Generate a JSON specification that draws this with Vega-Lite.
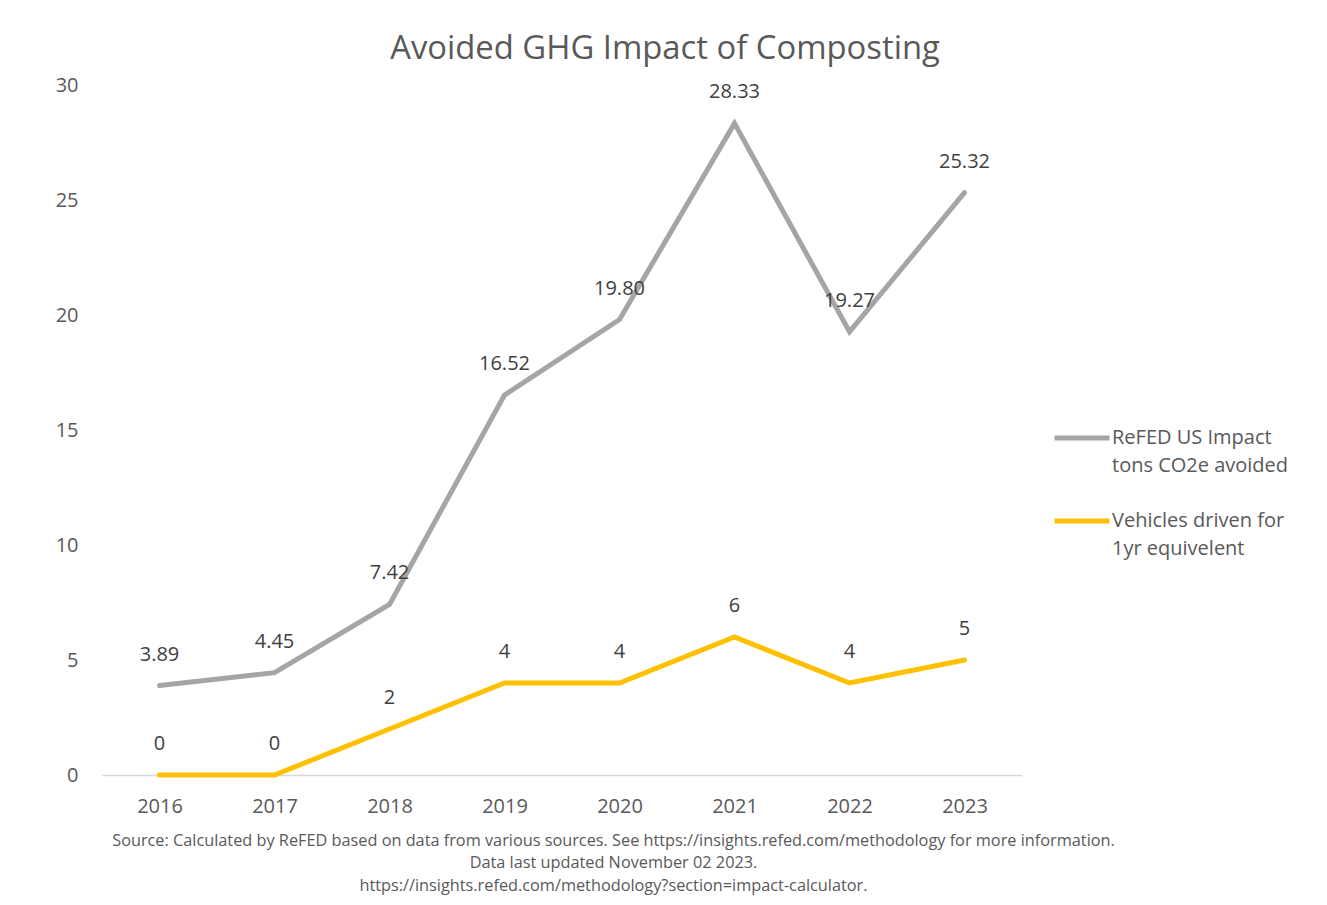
{
  "$schema": "https://vega.github.io/schema/vega-lite/v6.json",
  "autosize": "none",
  "width": 920,
  "height": 690,
  "padding": {"left": 102, "top": 85, "right": 305, "bottom": 130},
  "background": "white",
  "config": {
    "font": "Open Sans",
    "view": {"stroke": null},
    "axis": {"labelFont": "Open Sans", "titleFont": "Open Sans"},
    "style": {"guide-label": {"lineHeight": 28}}
  },
  "title": {
    "text": "Avoided GHG Impact of Composting",
    "font": "Open Sans",
    "fontSize": 32.8,
    "fontWeight": "normal",
    "color": "#595959",
    "anchor": "middle",
    "dx": 103,
    "offset": 9
  },
  "data": {
    "values": [
      {"year": "2016", "series": "ReFED US Impact tons CO2e avoided", "value": 3.89},
      {"year": "2017", "series": "ReFED US Impact tons CO2e avoided", "value": 4.45},
      {"year": "2018", "series": "ReFED US Impact tons CO2e avoided", "value": 7.42},
      {"year": "2019", "series": "ReFED US Impact tons CO2e avoided", "value": 16.52},
      {"year": "2020", "series": "ReFED US Impact tons CO2e avoided", "value": 19.80},
      {"year": "2021", "series": "ReFED US Impact tons CO2e avoided", "value": 28.33},
      {"year": "2022", "series": "ReFED US Impact tons CO2e avoided", "value": 19.27},
      {"year": "2023", "series": "ReFED US Impact tons CO2e avoided", "value": 25.32},
      {"year": "2016", "series": "Vehicles driven for 1yr equivelent", "value": 0},
      {"year": "2017", "series": "Vehicles driven for 1yr equivelent", "value": 0},
      {"year": "2018", "series": "Vehicles driven for 1yr equivelent", "value": 2},
      {"year": "2019", "series": "Vehicles driven for 1yr equivelent", "value": 4},
      {"year": "2020", "series": "Vehicles driven for 1yr equivelent", "value": 4},
      {"year": "2021", "series": "Vehicles driven for 1yr equivelent", "value": 6},
      {"year": "2022", "series": "Vehicles driven for 1yr equivelent", "value": 4},
      {"year": "2023", "series": "Vehicles driven for 1yr equivelent", "value": 5}
    ]
  },
  "encoding": {
    "x": {
      "field": "year",
      "type": "ordinal",
      "scale": {"type": "point", "padding": 0.5},
      "axis": {
        "labelAngle": 0,
        "labelFontSize": 20,
        "labelColor": "#595959",
        "labelPadding": 21,
        "ticks": false,
        "domainColor": "#D9D9D9",
        "domainWidth": 1.3,
        "grid": false,
        "title": [
          "Source: Calculated by ReFED based on data from various sources. See https://insights.refed.com/methodology for more information.",
          "Data last updated November 02 2023.",
          "https://insights.refed.com/methodology?section=impact-calculator."
        ],
        "titleFontSize": 16.3,
        "titleFontWeight": "normal",
        "titleColor": "#595959",
        "titleLineHeight": 22.5,
        "titlePadding": 16,
        "titleX": 511
      }
    },
    "y": {
      "field": "value",
      "type": "quantitative",
      "scale": {"domain": [0, 30], "nice": false},
      "axis": {
        "values": [0, 5, 10, 15, 20, 25, 30],
        "labelFontSize": 20,
        "labelColor": "#595959",
        "labelPadding": 24,
        "ticks": false,
        "domain": false,
        "grid": false,
        "title": null
      }
    }
  },
  "layer": [
    {
      "mark": {"type": "line", "strokeWidth": 5, "strokeCap": "round"},
      "encoding": {
        "color": {
          "field": "series",
          "type": "nominal",
          "scale": {
            "domain": ["ReFED US Impact tons CO2e avoided", "Vehicles driven for 1yr equivelent"],
            "range": ["#A5A5A5", "#FFC000"]
          },
          "legend": {
            "title": null,
            "orient": "none",
            "legendX": 950,
            "legendY": 323,
            "padding": 0,
            "symbolType": "M-1,0L1,0",
            "symbolSize": 3025,
            "symbolStrokeWidth": 5,
            "symbolFillColor": "transparent",
            "labelFontSize": 20,
            "labelColor": "#595959",
            "labelOffset": 0,
            "labelLimit": 400,
            "labelBaseline": "middle",
            "rowPadding": 15,
            "labelExpr": "datum.value == 'ReFED US Impact tons CO2e avoided' ? ['ReFED US Impact', 'tons CO2e avoided'] : ['Vehicles driven for', '1yr equivelent']"
          }
        }
      }
    },
    {
      "transform": [{"filter": "datum.series == 'ReFED US Impact tons CO2e avoided'"}],
      "mark": {"type": "text", "dy": -31, "fontSize": 20, "color": "#404040"},
      "encoding": {"text": {"field": "value", "type": "quantitative", "format": ".2f"}}
    },
    {
      "transform": [{"filter": "datum.series == 'Vehicles driven for 1yr equivelent'"}],
      "mark": {"type": "text", "dy": -31, "fontSize": 20, "color": "#404040"},
      "encoding": {"text": {"field": "value", "type": "quantitative", "format": "d"}}
    }
  ]
}
